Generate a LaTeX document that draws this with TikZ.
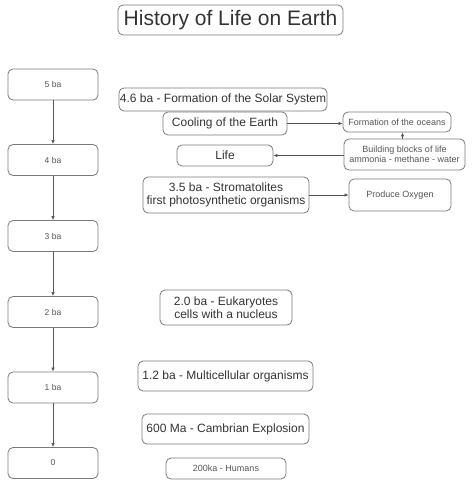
\documentclass[tikz,border=0pt]{standalone}
\usepackage{fontspec}
\setmainfont{Liberation Sans}
\usetikzlibrary{arrows.meta}
\definecolor{bordc}{HTML}{7A7A7A}
\definecolor{txtc}{HTML}{333333}
\definecolor{smallc}{HTML}{555555}
\definecolor{arrc}{HTML}{555555}
\begin{document}
\begin{tikzpicture}[x=1pt,y=-1pt,
  box/.style={draw=bordc,line width=0.8pt,rounded corners=5pt,inner sep=0pt,align=center,text=txtc},
  big/.style={font=\fontsize{12}{13.5}\selectfont},
  small/.style={font=\fontsize{9}{10.5}\selectfont,text=smallc},
  tiny/.style={font=\fontsize{8.5}{10}\selectfont,text=smallc},
  conn/.style={draw=arrc,line width=0.7pt,-{Latex[length=4pt,width=3.5pt]}}]
\useasboundingbox (0,0) rectangle (474,489);
\node[box,minimum width=225pt,minimum height=30pt,font=\fontsize{21}{24}\selectfont] (title) at (230.5,20) {History of Life on Earth};
% timeline
\node[box,tiny,minimum width=90pt,minimum height=31pt] (t5) at (53,84.5) {5 ba};
\node[box,tiny,minimum width=90pt,minimum height=31pt] (t4) at (53,160) {4 ba};
\node[box,tiny,minimum width=90pt,minimum height=31pt] (t3) at (53,236) {3 ba};
\node[box,tiny,minimum width=90pt,minimum height=31pt] (t2) at (53,312) {2 ba};
\node[box,tiny,minimum width=90pt,minimum height=31pt] (t1) at (53,387.5) {1 ba};
\node[box,tiny,minimum width=90pt,minimum height=31pt] (t0) at (53,463) {0};
\draw[conn] (t5) -- (t4);
\draw[conn] (t4) -- (t3);
\draw[conn] (t3) -- (t2);
\draw[conn] (t2) -- (t1);
\draw[conn] (t1) -- (t0);
% events
\node[box,big,minimum width=208pt,minimum height=23pt] (solar) at (223,99.5) {4.6 ba - Formation of the Solar System};
\node[box,big,minimum width=124pt,minimum height=23pt] (cool) at (225,123.5) {Cooling of the Earth};
\node[box,small,minimum width=108pt,minimum height=20pt] (ocean) at (397,122) {Formation of the oceans};
\node[box,small,minimum width=121pt,minimum height=31pt] (blocks) at (404.5,154.5) {Building blocks of life\\ammonia - methane - water};
\node[box,big,minimum width=96pt,minimum height=21pt] (life) at (225,155.5) {Life};
\node[box,big,minimum width=166pt,minimum height=36pt] (strom) at (226,195) {3.5 ba - Stromatolites\\first photosynthetic organisms};
\node[box,small,minimum width=102pt,minimum height=32pt] (oxy) at (400,195) {Produce Oxygen};
\node[box,big,minimum width=132pt,minimum height=35pt] (euk) at (226,307.5) {2.0 ba - Eukaryotes\\cells with a nucleus};
\node[box,big,minimum width=175pt,minimum height=30pt] (multi) at (225.5,376) {1.2 ba - Multicellular organisms};
\node[box,big,minimum width=167pt,minimum height=30pt] (camb) at (225.5,429) {600 Ma - Cambrian Explosion};
\node[box,small,minimum width=120pt,minimum height=21pt] (hum) at (226,468.5) {200ka - Humans};
\draw[conn] (cool.east) -- (cool.east -| ocean.west);
\draw[conn] ([xshift=-2pt]blocks.north) -- ([xshift=-2pt]blocks.north |- ocean.south);
\draw[conn] (blocks.west |- life.east) -- (life.east);
\draw[conn] (strom.east) -- (oxy.west);
\end{tikzpicture}
\end{document}
